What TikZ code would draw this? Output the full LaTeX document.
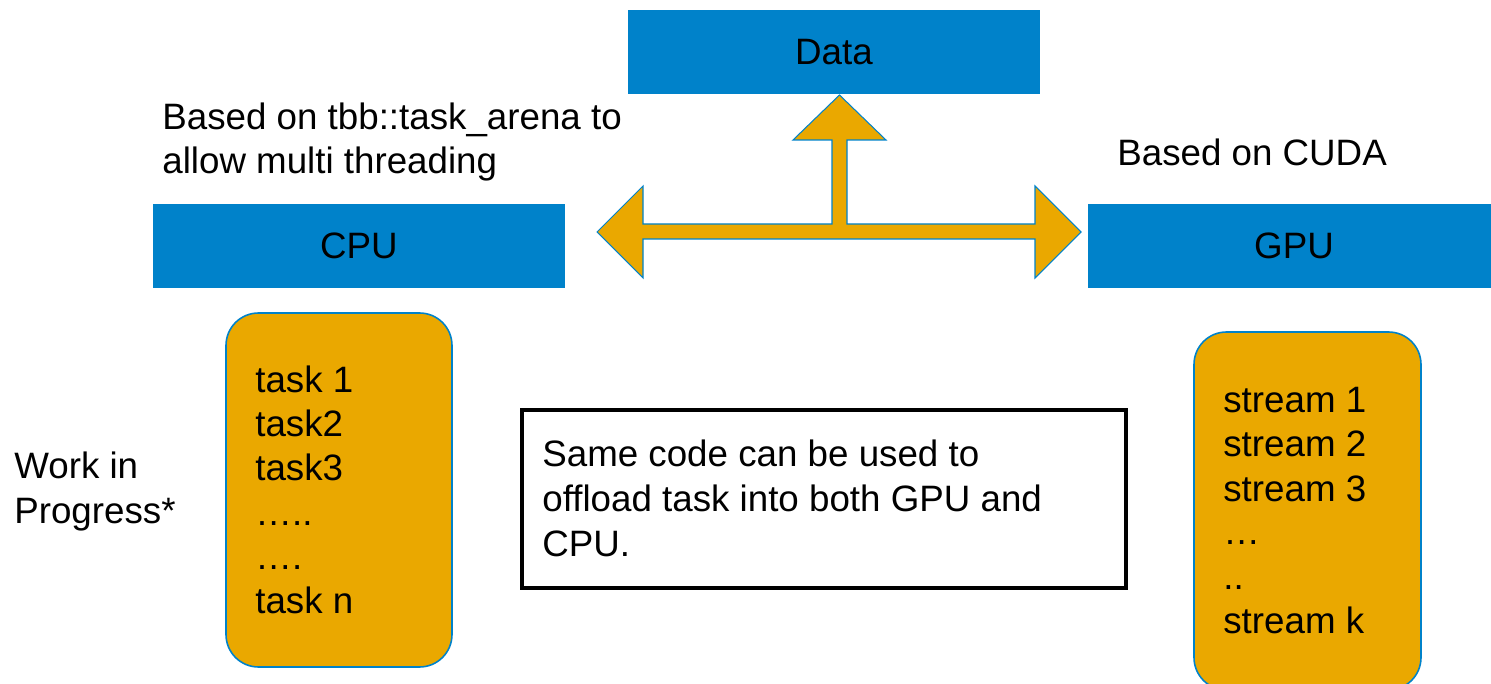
\documentclass[tikz,border=0pt]{standalone}
\usepackage{fontspec}
\setmainfont{Liberation Sans}
\usepackage{tikz}

\definecolor{boxblue}{RGB}{0,130,202}
\definecolor{taskorange}{RGB}{234,168,0}

\tikzset{
  unitbox/.style={fill=boxblue, minimum width=8.24cm, minimum height=1.68cm, inner sep=0pt},
  queuebox/.style={fill=taskorange, draw=boxblue, line width=0.9pt, rounded corners=6.5mm, inner sep=0pt},
  notebox/.style={draw=black, line width=2.1pt, minimum width=12.08cm, minimum height=3.56cm, inner sep=0pt},
  textline/.style={anchor=base west, inner sep=0pt},
}

\begin{document}
\begin{tikzpicture}[x=0.2mm, y=-0.2mm, every node/.style={font=\fontsize{20.9}{25}\selectfont}]
            \useasboundingbox (0,0) rectangle (1491,684);
            % devices and data
            \node[unitbox] (data) at (834,52) {Data};
            \node[unitbox] (cpu) at (359,246) {CPU};
            \node[unitbox] (gpu) at (1294,246) {GPU};
            \filldraw[fill=taskorange, draw=boxblue, line width=0.6pt]
                (597,232) -- (643,186) -- (643,224) -- (832,224) -- (832,140) -- (793,140)
                -- (839.5,95) -- (886,140) -- (847,140) -- (847,224) -- (1035,224) -- (1035,186)
                -- (1081,232) -- (1035,278) -- (1035,239) -- (643,239) -- (643,278) -- cycle;
            \node[textline] (tbb1) at (162,130) {Based on tbb::task\_arena to};
            \node[textline] (tbb2) at (162,174) {allow multi threading};
            \node[textline] (cuda) at (1117,166) {Based on CUDA};
            % queues
            \node[queuebox, minimum width=4.52cm, minimum height=7.08cm] (tasks) at (339,490) {};
            \node[queuebox, minimum width=4.54cm, minimum height=7.16cm] (streams) at (1307.5,511) {};
            \foreach \t [count=\i] in {task 1,task2,task3,…..,….,task n}
                \node[textline] (task\i) at (255,{393+44*(\i-1)}) {\t};
            \foreach \t [count=\i] in {stream 1,stream 2,stream 3,…,..,stream k}
                \node[textline] (stream\i) at (1223,{413+44*(\i-1)}) {\t};
            \node[textline] (wip1) at (14,479) {Work in};
            \node[textline] (wip2) at (14,523) {Progress*};
            % note
            \node[notebox] (note) at (824,499) {};
            \foreach \t [count=\i] in {Same code can be used to,offload task into both GPU and,CPU.}
                \node[textline] (note\i) at (542,{467+44.5*(\i-1)}) {\t};
        \end{tikzpicture}
\end{document}
